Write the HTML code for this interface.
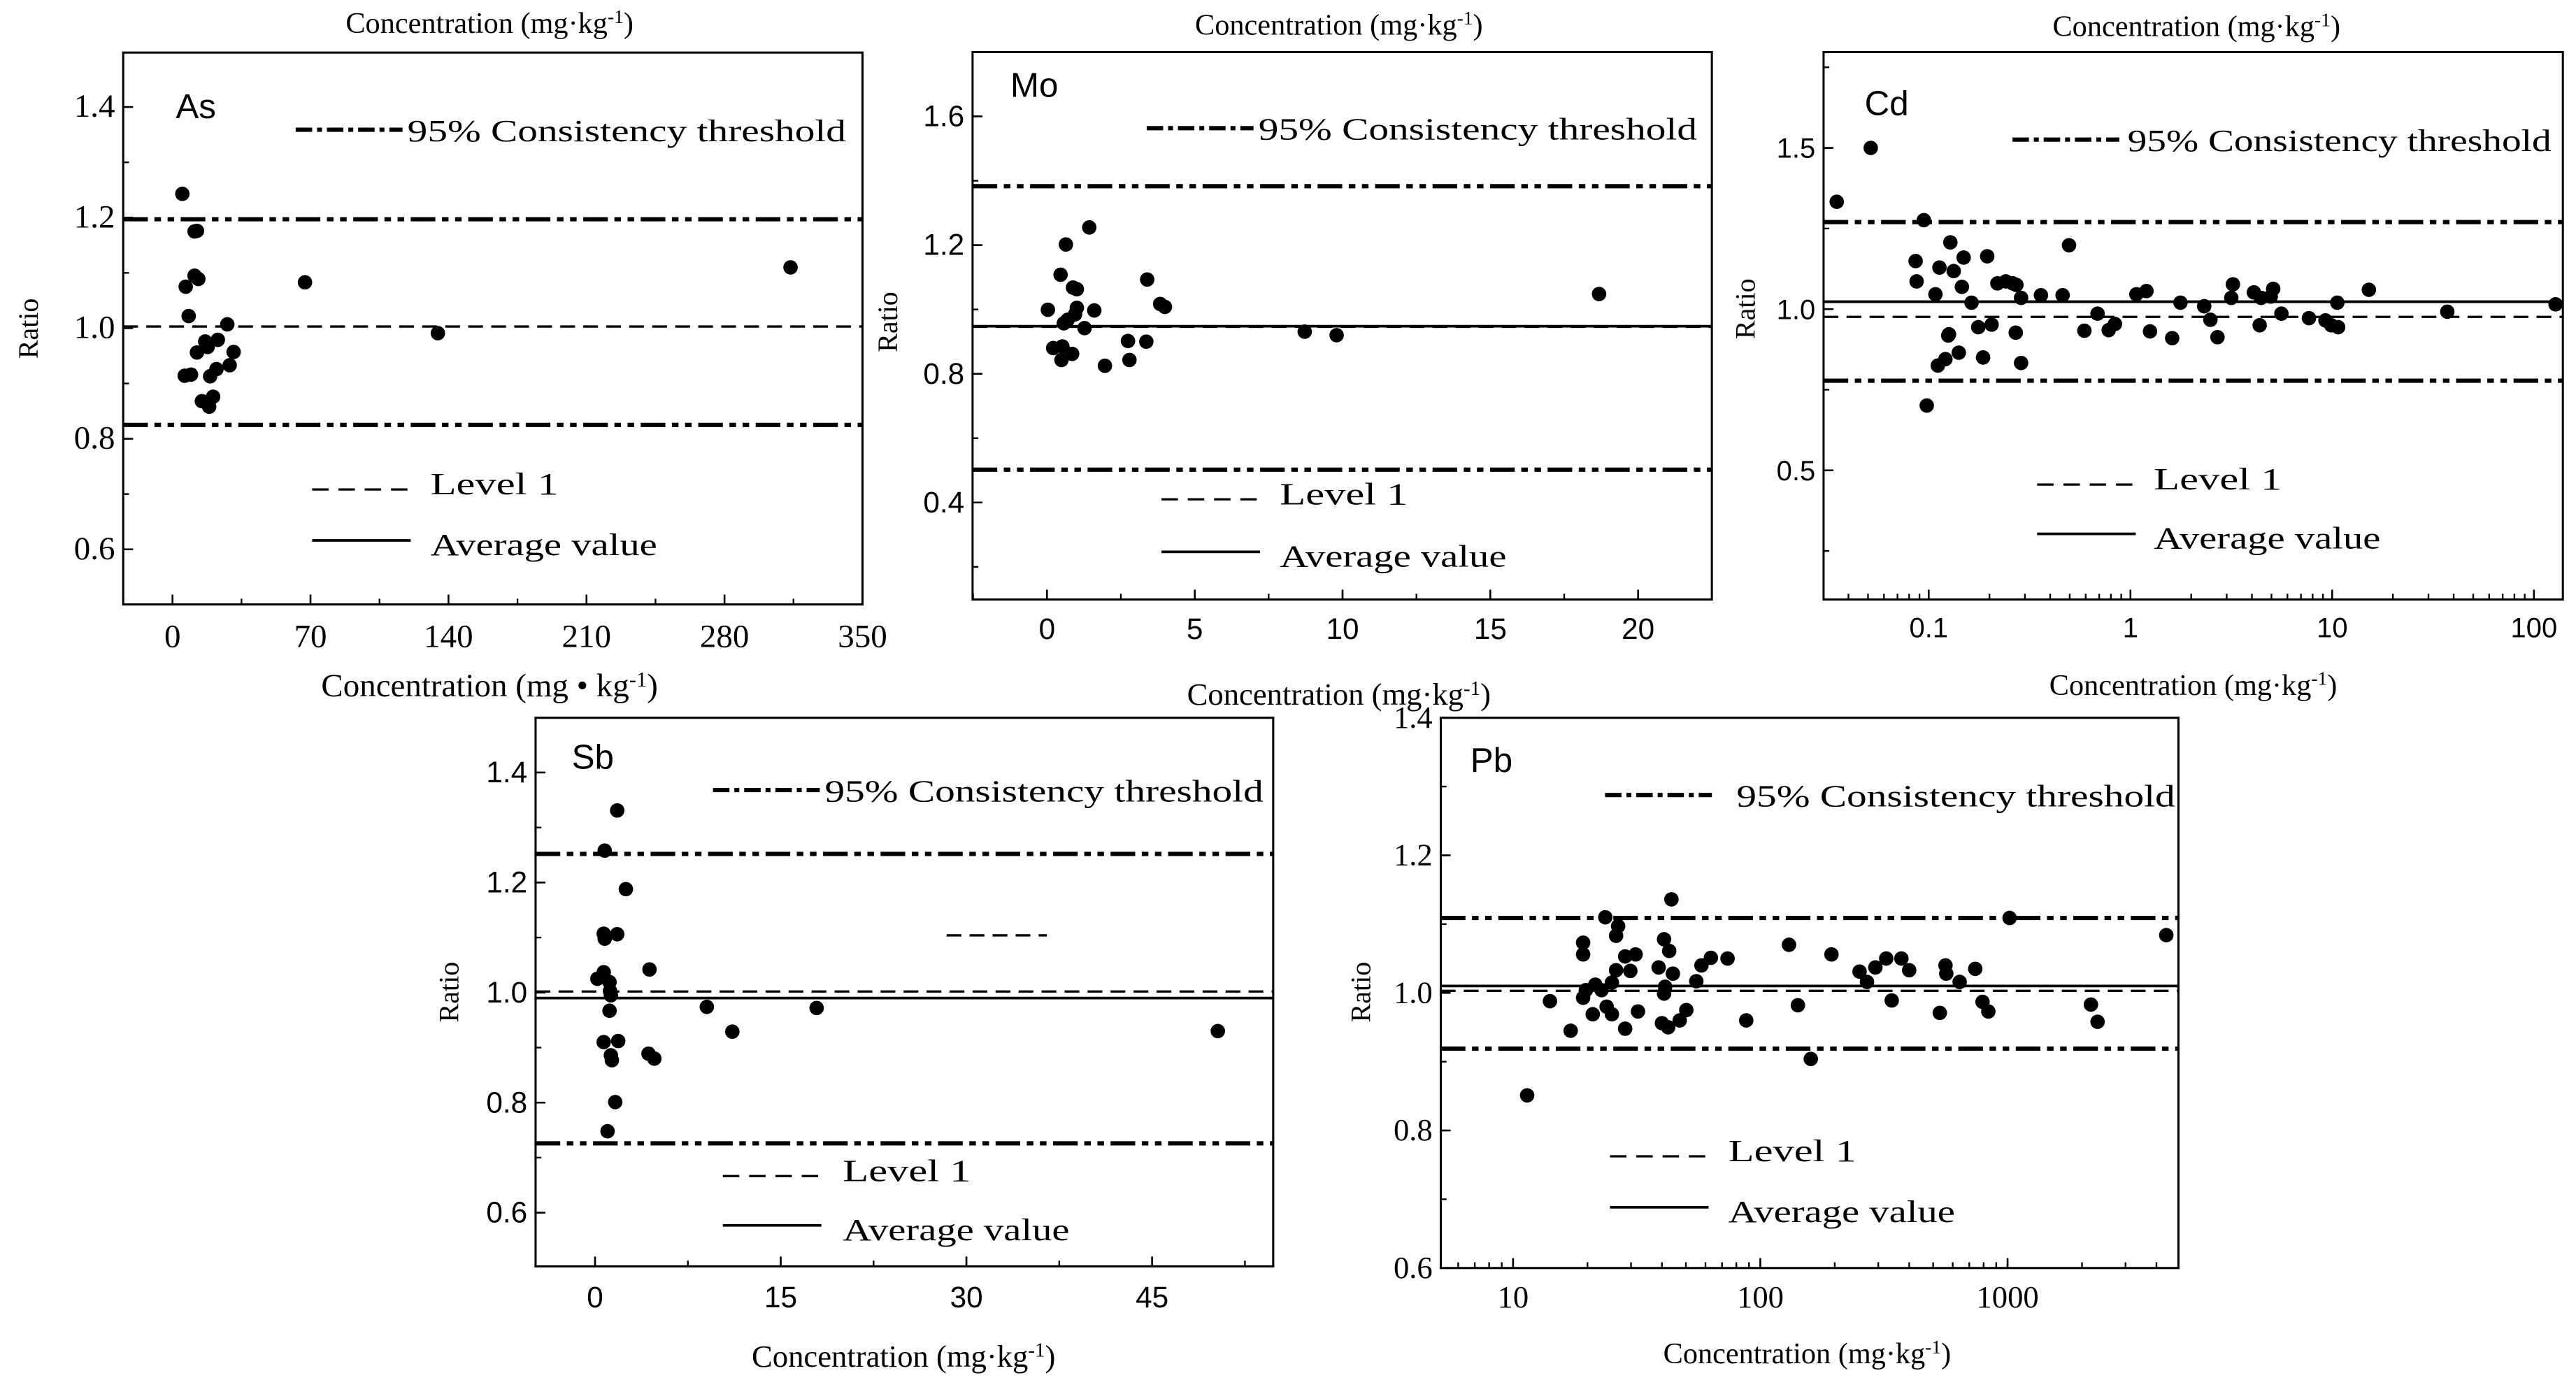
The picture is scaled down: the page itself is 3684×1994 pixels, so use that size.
<!DOCTYPE html>
<html><head><meta charset="utf-8"><title>Ratio vs concentration</title>
<style>
html,body{margin:0;padding:0;background:#fff;}
svg{display:block;}
.mono{font-family:"Liberation Mono","Noto Sans CJK SC",monospace;}
.serif{font-family:"Liberation Serif",serif;}
.sans{font-family:"Liberation Sans",sans-serif;}
.leg{font-family:"Liberation Serif","Noto Serif CJK SC",serif;}
</style></head>
<body>
<svg id="fig" xmlns="http://www.w3.org/2000/svg" width="3684" height="1994" viewBox="0 0 1568 848.7" preserveAspectRatio="none"></svg>
<script>
// ---------- As ----------
const asConc = [5.0,11.2,12.4,6.7,11.2,13.1,8.2,6.2,9.4,19.1,22.3,29.0,31.0,12.4,16.6,17.8,23.0,27.8,14.9,18.6,20.6,67.2,134.6,313.5];
const asRatio = [1.243,1.175,1.176,1.075,1.095,1.089,1.022,0.914,0.916,0.913,0.926,0.933,0.957,0.956,0.976,0.966,0.979,1.007,0.868,0.858,0.876,1.083,0.991,1.110];
const asLines = [1.197,0.825,1.003];
const asXTicks = [0,70,140,210,280,350];
const asYTicks = ["0.6","0.8","1.0","1.2","1.4"];
// ---------- Mo ----------
const moConc = [0.03,0.21,0.46,0.49,0.52,0.57,0.64,0.70,0.85,0.88,0.95,1.01,1.01,1.27,1.43,1.60,1.96,2.74,2.79,3.36,3.39,3.83,3.99,8.72,9.80,18.68];
const moRatio = [0.999,0.880,1.108,0.843,0.885,0.957,1.202,0.968,0.862,1.068,0.985,1.063,1.005,0.942,1.255,0.997,0.825,0.902,0.843,0.900,1.093,1.017,1.008,0.931,0.920,1.048];
const moLines = [1.383,0.502,0.946,0.948];
const moXTicks = [0,5,10,15,20];
const moYTicks = ["0.4","0.8","1.2","1.6"];
// ---------- Cd ----------
const cdConc = [0.035,0.0516,0.0946,0.0978,0.0861,0.0871,0.108,0.113,0.128,0.133,0.149,0.146,0.163,0.125,0.126,0.141,0.111,0.121,0.176,0.186,0.195,0.205,0.219,0.241,0.261,0.272,0.270,0.287,0.287,0.360,0.461,0.496,0.591,0.687,0.780,0.838,1.07,1.20,1.25,1.61,1.77,2.32,2.49,2.70,3.16,3.22,4.09,4.37,4.44,4.96,5.10,5.60,7.67,9.26,9.89,10.7,10.6,15.2,37.2,128];
const cdRatio = [1.333,1.500,1.276,0.701,1.149,1.086,1.046,1.129,1.207,1.118,1.160,1.069,1.020,0.918,0.922,0.865,0.825,0.845,0.944,0.850,1.164,0.952,1.080,1.086,1.080,1.075,0.927,1.035,0.833,1.043,1.043,1.198,0.933,0.986,0.935,0.954,1.046,1.056,0.931,0.910,1.020,1.009,0.967,0.913,1.035,1.077,1.052,0.950,1.035,1.039,1.063,0.986,0.972,0.965,0.950,0.944,1.020,1.060,0.992,1.015];
const cdLines = [1.27,0.778,0.976,1.023];
const cdXTicks = ["0.1","1","10","100"];
const cdYTicks = ["0.5","1.0","1.5"];
// ---------- Sb ----------
const sbConc = [1.79,0.78,2.49,0.70,0.78,1.79,0.70,0.19,1.17,1.21,1.28,1.17,0.70,1.87,1.28,1.36,4.32,4.79,1.63,1.01,4.40,9.03,11.09,17.90,50.31];
const sbRatio = [1.331,1.258,1.188,1.107,1.098,1.106,1.037,1.025,1.019,1.003,0.995,0.967,0.910,0.912,0.886,0.877,0.889,0.880,0.801,0.748,1.042,0.974,0.929,0.972,0.930];
const sbLines = [1.252,0.726,1.002,0.990];
const sbXTicks = [0,15,30,45];
const sbYTicks = ["0.6","0.8","1.0","1.2","1.4"];
// ---------- Pb ----------
const pbConc = [11.4,14.1,17.1,19.2,19.2,19.2,19.7,21.0,21.5,22.8,23.6,23.9,25.1,25.1,26.1,26.1,26.6,28.4,28.4,29.8,31.3,32.0,38.8,40.0,40.8,40.8,41.2,42.4,42.8,43.7,44.3,47.2,50.2,55.1,57.8,63.1,73.7,87.7,130.6,141.9,160,194,252,270,292,323,340,372,400,532,561,565,640,740,792,836,1019,2173,2312,4385];
const pbRatio = [0.851,0.988,0.945,1.073,1.056,0.993,1.004,0.969,1.012,1.004,1.110,0.980,0.969,1.015,1.033,1.083,1.097,0.948,1.053,1.032,1.056,0.973,1.037,0.956,1.078,0.999,1.009,0.950,1.061,1.136,1.028,0.960,0.975,1.017,1.040,1.051,1.050,0.960,1.070,0.982,0.904,1.056,1.031,1.016,1.037,1.050,0.989,1.050,1.033,0.971,1.040,1.028,1.016,1.035,0.987,0.973,1.109,0.983,0.958,1.084];
const pbLines = [1.109,0.919,1.003,1.010];
const pbXTicks = ["10","100","1000"];
const pbYTicks = ["0.6","0.8","1.0","1.2","1.4"];
const sbExtraLevel = [1.104, 28.4, 36.5];

const NS="http://www.w3.org/2000/svg";
const svg=document.getElementById('fig');
function mk(tag,attrs,parent){const e=document.createElementNS(NS,tag);for(const k in attrs)e.setAttribute(k,attrs[k]);(parent||svg).appendChild(e);return e;}
function txt(s,x,y,cls,size,anchor,parent){const t=mk('text',{x:x,y:y,'font-size':size,'text-anchor':anchor||'middle','class':cls},parent);t.textContent=s;return t;}
function concTitle(x,y,cls,size,sep,parent){
  const t=mk('text',{x:x,y:y,'font-size':size,'text-anchor':'middle','class':cls},parent);
  
  
  const a=mk('tspan',{},t);a.textContent='Concentration (mg'+sep+'kg';
  const b=mk('tspan',{dy:-6,'font-size':size*0.65},t);b.textContent='-1';
  const c=mk('tspan',{dy:6},t);c.textContent=')';
  return t;
}
const DD='15 4 4 4 4 4', DASH='9 5';

function panel(o){
  const g=mk('g',{});
  
  
  const [L,T,R,B]=o.frame;
  const hl=(v,dash,w,nm,x1,x2)=>{const l=mk('line',{x1:x1===undefined?L:x1,x2:x2===undefined?R:x2,y1:o.y(v),y2:o.y(v),stroke:'#000','stroke-width':w,'stroke-dasharray':dash||'none'},g);
    
    };
  hl(o.lines[0],DD,2.6,'upper-threshold-line');
  hl(o.lines[1],DD,2.6,'lower-threshold-line');
  hl(o.lines[2],DASH,1.4,'level-1-line');
  if(o.lines.length>3) hl(o.lines[3],'',1.6,'average-line');
  if(o.extra){const e=mk('line',{x1:o.x(o.extra[1]),x2:o.x(o.extra[2]),y1:o.y(o.extra[0]),y2:o.y(o.extra[0]),stroke:'#000','stroke-width':1.4,'stroke-dasharray':DASH},g);
    
    }
  const f=mk('rect',{x:L,y:T,width:R-L,height:B-T,fill:'none',stroke:'#000','stroke-width':1.3},g);
  
  
  o.yMinor.forEach(v=>{const yy=o.y(v);if(yy<T||yy>B)return;mk('line',{x1:L,x2:L+3.5,y1:yy,y2:yy,stroke:'#000','stroke-width':1},g);});
  o.yTicks.forEach(s=>{const yy=o.y(+s);mk('line',{x1:L,x2:L+6,y1:yy,y2:yy,stroke:'#000','stroke-width':1.1},g);
    const t=txt(s,L-5,yy+6,o.tickCls,o.tickSize,'end',g);
    
    });
  o.xMinor.forEach(v=>{const xx=o.x(v);if(xx<L||xx>R)return;mk('line',{x1:xx,x2:xx,y1:B,y2:B-3.5,stroke:'#000','stroke-width':1},g);});
  o.xTicks.forEach(s=>{const xx=o.x(+s);mk('line',{x1:xx,x2:xx,y1:B,y2:B-6,stroke:'#000','stroke-width':1.1},g);
    const t=txt(String(s),xx,B+o.xLabelDy,o.tickCls,o.tickSize,'middle',g);
    
    });
  o.xs.forEach((c,i)=>{const p=mk('circle',{cx:o.x(c),cy:o.y(o.ys[i]),r:4.4,fill:'#000'},g);
    
    });
  const el=txt(o.name,o.lab[0],o.lab[1],'sans',21,'start',g);
  
  
  const lg=o.leg;
  const lgg=mk('g',{},g);
  
  
  mk('line',{x1:lg[0],x2:lg[0]+65,y1:lg[1],y2:lg[1],stroke:'#000','stroke-width':2.6,'stroke-dasharray':'10 3 3 3'},lgg);
  const t1=txt('95% Consistency threshold',lg[2],lg[1]+7,'leg',19,'start',lgg);t1.setAttribute('textLength',o.legW||267);t1.setAttribute('lengthAdjust','spacingAndGlyphs');
  
  
  mk('line',{x1:lg[3],x2:lg[3]+60,y1:lg[4],y2:lg[4],stroke:'#000','stroke-width':1.4,'stroke-dasharray':'10 6'},lgg);
  const t2=txt('Level 1',lg[5],lg[4]+3,'leg',19,'start',lgg);t2.setAttribute('textLength',78);t2.setAttribute('lengthAdjust','spacingAndGlyphs');
  
  
  mk('line',{x1:lg[3],x2:lg[3]+60,y1:lg[6],y2:lg[6],stroke:'#000','stroke-width':1.6},lgg);
  const t3=txt('Average value',lg[5],lg[6]+9,'leg',19,'start',lgg);t3.setAttribute('textLength',138);t3.setAttribute('lengthAdjust','spacingAndGlyphs');
  
  
  const r=txt('Ratio',0,0,o.ratioCls,17,'middle',g);
  r.setAttribute('transform','translate('+o.ratio[0]+','+o.ratio[1]+') rotate(-90)');
  
  
}
function range(a,b,s){const r=[];for(let v=a;v<=b+1e-9;v+=s)r.push(+v.toFixed(4));return r;}
function logMinor(d0,d1){const r=[];for(let d=d0;d<=d1;d++)for(let k=1;k<10;k++)r.push(k*Math.pow(10,d));return r;}

panel({name:'As',frame:[75,32,525,368],x:v=>105+1.2*v,y:v=>199.8-(v-1)*336.6,
  xs:asConc,ys:asRatio,lines:asLines,xTicks:asXTicks,yTicks:asYTicks,
  xMinor:range(35,315,70),yMinor:range(0.5,1.5,0.1),tickCls:'leg',tickSize:20,xLabelDy:26,
  lab:[107,72],leg:[180,79,248,190,298,262,329],ratio:[23,200],ratioCls:'leg'});
panel({name:'Mo',frame:[592,31.7,1042,365],x:v=>637.3+17.99*v,y:v=>188.4-(v-1)*195.9,
  xs:moConc,ys:moRatio,lines:moLines,xTicks:moXTicks,yTicks:moYTicks,
  xMinor:range(-2.5,22.5,2.5),yMinor:range(0.2,1.8,0.2),tickCls:'sans',tickSize:18,xLabelDy:24,
  lab:[615,59],leg:[698,78,766,707,304,779,336],ratio:[546,196],ratioCls:'leg'});
panel({name:'Cd',frame:[1110,31.7,1560,365],x:v=>1174+122.8*(Math.log10(v)+1),y:v=>188.2-(v-1)*196.3,
  xs:cdConc,ys:cdRatio,lines:cdLines,xTicks:cdXTicks,yTicks:cdYTicks,legW:258,
  xMinor:logMinor(-2,2),yMinor:range(0.25,1.75,0.25),tickCls:'sans',tickSize:17,xLabelDy:23,
  lab:[1135,70],leg:[1225,85,1295,1240,295,1311,325],ratio:[1068,188],ratioCls:'leg'});
panel({name:'Sb',frame:[326,437,775,771],x:v=>362.2+7.535*v,y:v=>604.3-(v-1)*335,
  xs:sbConc,ys:sbRatio,lines:sbLines,xTicks:sbXTicks,yTicks:sbYTicks,extra:sbExtraLevel,
  xMinor:range(-7.5,52.5,7.5),yMinor:range(0.5,1.5,0.1),tickCls:'sans',tickSize:18,xLabelDy:25,
  lab:[348,468],leg:[434,481,502,440,716,513,746],ratio:[279,604],ratioCls:'leg'});
panel({name:'Pb',frame:[877,437,1326,772],x:v=>921+150.5*(Math.log10(v)-1),y:v=>604.5-(v-1)*418.75,
  xs:pbConc,ys:pbRatio,lines:pbLines,xTicks:pbXTicks,yTicks:pbYTicks,
  xMinor:logMinor(0,3),yMinor:range(0.6,1.4,0.1),tickCls:'serif',tickSize:19,xLabelDy:24,
  lab:[895,470],leg:[977,484,1057,980,704,1052,735],ratio:[834,604],ratioCls:'serif'});

concTitle(298,20,'serif',18,'·');
concTitle(298,424,'leg',20,' • ');
concTitle(815,21,'serif',18,'·');
concTitle(815,429,'serif',19,'·');
concTitle(1337,22,'serif',18,'·');
concTitle(1335,423,'serif',18,'·');
concTitle(550,832,'serif',19,'·');
concTitle(1100,830,'serif',18,'·');
</script>
</body></html>
